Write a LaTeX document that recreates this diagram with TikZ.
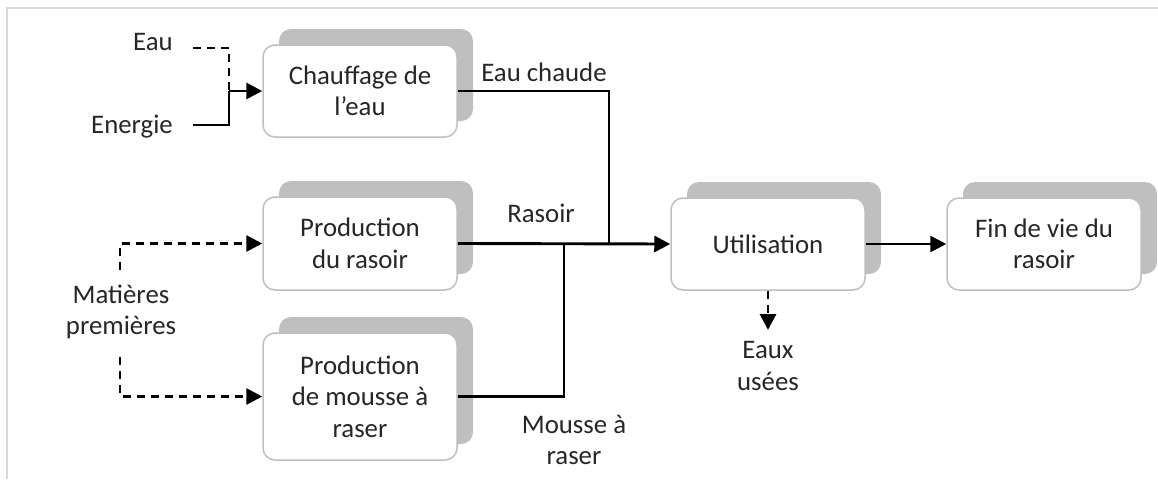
\documentclass[tikz,border=0pt]{standalone}
\usepackage{fontspec}
\setmainfont{Carlito}
\usetikzlibrary{arrows.meta,shadows}
\definecolor{shadowgray}{HTML}{BFBFBF}
\definecolor{boxborder}{HTML}{BFBFBF}
\definecolor{framegray}{HTML}{D9D9D9}
\definecolor{txt}{HTML}{262626}
\begin{document}
\begin{tikzpicture}[x=1pt,y=-1pt,
  every node/.style={font=\fontsize{26.8}{31.5}\selectfont, text=txt},
  procbox/.style={draw=boxborder, line width=1.5pt, fill=white, rounded corners=12pt,
     align=center, inner sep=0pt, minimum width=194pt,
     general shadow={fill=shadowgray, draw=none, shadow xshift=16pt, shadow yshift=16pt}},
  lbl/.style={align=center, inner sep=0pt},
  sline/.style={draw=black, line width=2.9pt},
  dline/.style={draw=black, line width=2.9pt, dash pattern=on 8pt off 6pt},
  arr/.style={-{Triangle[length=16pt,width=16pt]}}
]
\useasboundingbox (0,0) rectangle (1158,479);
% frame
\draw[framegray, line width=2pt] (7,479) -- (7,8) -- (1158,8);

% process boxes
\node[procbox, minimum height=92pt] (chauf) at (360,91) {Chauffage de\\l’eau};
\node[procbox, minimum height=93pt] (prod) at (360,243.5) {Production\\du rasoir};
\node[procbox, minimum height=127pt] (mousse) at (360,396.5) {Production\\de mousse à\\raser};
\node[procbox, minimum height=92pt] (util) at (768,244) {Utilisation};
\node[procbox, minimum height=92pt] (fin) at (1044,244) {Fin de vie du\\rasoir};

% labels
\node[lbl, anchor=east] (eau) at (173,42) {Eau};
\node[lbl, anchor=east] (energie) at (173,127) {Energie};
\node[lbl] (mat) at (121,312) {Matières\\premières};
\node[lbl] (eauchaude) at (544,72) {Eau chaude};
\node[lbl] (rasoir) at (541,213) {Rasoir};
\node[lbl] (mousselbl) at (574,440) {Mousse à\\raser};
\node[lbl] (eaux) at (768,366) {Eaux\\usées};

% junction coordinates
\coordinate (eauS) at (193,48);
\coordinate (enS) at (193,125);
\coordinate (j1) at (229,91);
\coordinate (matT) at (120,270);
\coordinate (matB) at (120,357);
\coordinate (jc) at (609,244);
\coordinate (jm) at (564,244);
\coordinate (eauxT) at (768,330);

% connectors
\draw[dline] (eauS) -| (j1);
\draw[sline] (enS) -| (j1);
\draw[sline,arr] (j1) -- (chauf.west);
\draw[dline,arr] (matT) |- (prod.west);
\draw[dline,arr] (matB) |- (mousse.west);
\draw[sline] (chauf.east) -| (jc);
\draw[sline] (mousse.east) -| (jm);
\draw[sline,arr] (prod.east) -- (util.west);
\draw[sline,arr] (util.east) -- (fin.west);
\draw[dline,arr] (util.south) -- (eauxT);
\end{tikzpicture}
\end{document}
